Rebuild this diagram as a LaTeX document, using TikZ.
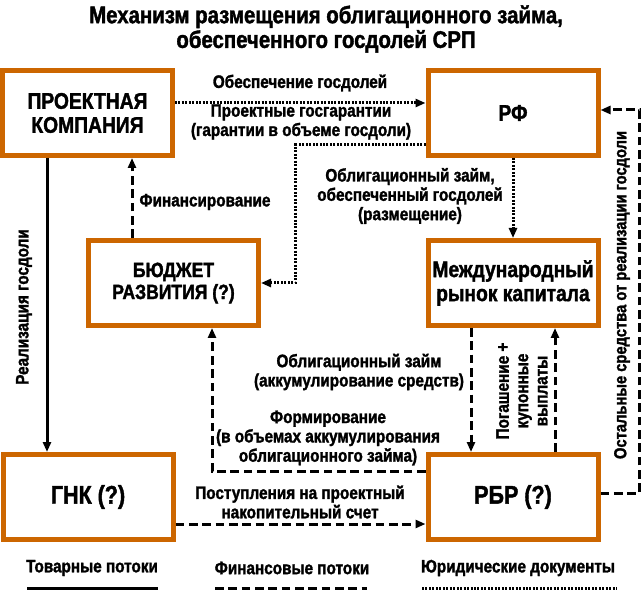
\documentclass[tikz,border=0pt]{standalone}
\usepackage{fontspec}
\setmainfont{Liberation Sans}
\newfontfamily\narrow[FakeStretch=0.85,FakeBold=1.6]{Liberation Sans}
\usetikzlibrary{arrows.meta,calc}
\definecolor{boxorange}{RGB}{204,102,0}
\tikzset{
  orgbox/.style={draw=boxorange, line width=3.75pt, minimum width=127.5pt,
    minimum height=63.75pt, inner sep=0pt, align=center,
    font=\narrow\bfseries\fontsize{17}{18}\selectfont},
  tip/.style={-{Triangle[length=7.5pt,width=6pt]}},
  goods/.style={line width=2.25pt},
  money/.style={line width=2.25pt, dash pattern=on 6.5pt off 3.5pt},
  docs/.style={line width=2.25pt, dash pattern=on 1.5pt off 1.1pt},
  lbl/.style={align=center, inner sep=0pt,
    font=\narrow\bfseries\fontsize{13.5}{14.5}\selectfont}
}
\begin{document}
\begin{tikzpicture}[x=0.75pt,y=-0.75pt]
\useasboundingbox (0,0) rectangle (642,591);

% title
\node[align=center, font=\narrow\bfseries\fontsize{18}{18.5}\selectfont] (title) at (326,29)
  {Механизм размещения облигационного займа,\\обеспеченного госдолей СРП};

% participants
\node[orgbox] (pk) at (87.5,113) {ПРОЕКТНАЯ\\КОМПАНИЯ};
\node[orgbox] (rf) at (513,113) {РФ};
\node[orgbox, font=\narrow\bfseries\fontsize{15.5}{16.5}\selectfont] (bud) at (173.5,283) {БЮДЖЕТ\\РАЗВИТИЯ (?)};
\node[orgbox] (mrk) at (513,283) {Международный\\рынок капитала};
\node[orgbox, font=\narrow\bfseries\fontsize{19}{20}\selectfont] (gnk) at (88,497) {ГНК (?)};
\node[orgbox, font=\narrow\bfseries\fontsize{19}{20}\selectfont] (rbr) at (513,497) {РБР (?)};

% flows
\draw[docs,tip] ($(pk.east)+(0,-10)$) -- ($(rf.west)+(0,-10)$);
\draw[docs,tip] ($(rf.west)+(0,32)$) -- ++(-130,0) |- (bud.east);
\draw[money,tip] ($(bud.north)+(-41.5,0)$) -- ($(pk.south)+(44.5,0)$);
\draw[goods,tip] ($(pk.south)+(-40.5,0)$) -- ($(gnk.north)+(-41,0)$);
\draw[docs,tip] (rf.south) -- (mrk.north);
\draw[money,tip] ($(mrk.south)+(-42,0)$) -- ($(rbr.north)+(-42,0)$);
\draw[money,tip] ($(rbr.north)+(42,0)$) -- ($(mrk.south)+(42,0)$);
\draw[money,tip] ($(rbr.west)+(0,-26)$) -| ($(bud.south)+(38.5,0)$);
\draw[money,tip] ($(gnk.east)+(0,27)$) -- ($(rbr.west)+(0,27)$);
\draw[money,tip] ($(rbr.east)+(0,-4)$) -- ++(39,0) |- ($(rf.east)+(0,-3)$);

% flow labels
\node[lbl] (l1) at (300,83) {Обеспечение госдолей};
\node[lbl] (l2) at (301,122) {Проектные госгарантии\\(гарантии в объеме госдоли)};
\node[lbl] (l3) at (205,202) {Финансирование};
\node[lbl] (l4) at (410,196) {Облигационный займ,\\обеспеченный госдолей\\(размещение)};
\node[lbl, rotate=90] (l5) at (24,307) {Реализация госдоли};
\node[lbl] (l6) at (359,372) {Облигационный займ\\(аккумулирование средств)};
\node[lbl] (l7) at (328,438) {Формирование\\(в объемах аккумулирования\\облигационного займа)};
\node[lbl] (l8) at (300,502) {Поступления на проектный\\накопительный счет};
\node[lbl, rotate=90] (l9) at (522,391) {Погашение +\\купонные\\выплаты};
\node[lbl, rotate=90, font=\narrow\bfseries\fontsize{13}{14}\selectfont] (l10) at (622,295)
  {Остальные средства от реализации госдоли};

% legend
\node[lbl] (lg1) at (92,568) {Товарные потоки};
\node[lbl] (lg2) at (292,568) {Финансовые потоки};
\node[lbl] (lg3) at (518,568) {Юридические документы};
\draw[goods] (27,588) -- (158,588);
\draw[money] (215,588) -- (367,588);
\draw[docs] (422,588) -- (617,588);

\end{tikzpicture}
\end{document}
